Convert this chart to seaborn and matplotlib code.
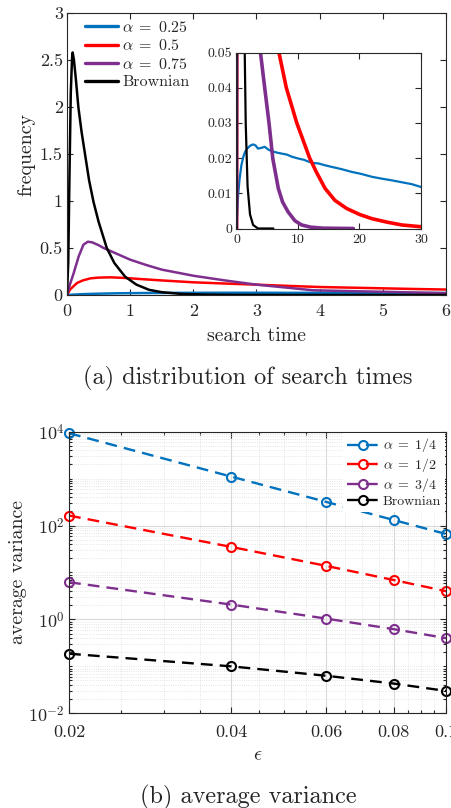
import numpy as np
import pandas as pd
import matplotlib
matplotlib.use('Agg')
import matplotlib.pyplot as plt
import matplotlib.ticker as mticker
import seaborn as sns

# --- (a) distribution of search times ---
t_a25 = [0, 0.1, 0.27, 0.5, 0.8, 1.1, 1.4, 1.8, 2.2, 2.7, 3.1, 3.5, 4.0, 4.6, 5.2, 5.7, 6.5, 7.3, 8.2,
         9.0, 10.0, 11.0, 11.7, 12.5, 13.3, 14.3, 15.5, 17.0, 18.7, 20.3, 22.0, 23.5, 25.2, 27.0, 28.5, 30.0]
f_a25 = [0, 0.004, 0.0095, 0.014, 0.018, 0.0203, 0.0218, 0.0228, 0.0235, 0.0239, 0.0236, 0.0227, 0.0229,
         0.0232, 0.0224, 0.0220, 0.0216, 0.0213, 0.0210, 0.0204, 0.0199, 0.0195, 0.0190, 0.0186, 0.0185,
         0.0180, 0.0175, 0.0169, 0.0161, 0.0155, 0.0147, 0.0142, 0.0137, 0.0131, 0.0126, 0.0118]

t_a50 = [0, 0.05, 0.16, 0.25, 0.37, 0.5, 0.69, 0.9, 1.16, 1.5, 2.0, 2.5, 3.0, 3.5, 4.0, 4.5, 5.0, 5.5,
         6.0, 6.9, 8.1, 9.8, 11.9, 13.0, 14.4, 16.0, 17.9, 20.0, 22.0, 24.5, 26.9, 30.0]
f_a50 = [0, 0.06, 0.128, 0.155, 0.177, 0.185, 0.188, 0.182, 0.170, 0.155, 0.135, 0.122, 0.110, 0.097,
         0.085, 0.078, 0.071, 0.064, 0.058, 0.050, 0.040, 0.030, 0.020, 0.016, 0.0114, 0.008, 0.0057,
         0.0040, 0.0028, 0.0018, 0.0010, 0.0005]

t_a75 = [0, 0.05, 0.1, 0.185, 0.26, 0.33, 0.4, 0.5, 0.58, 0.75, 1.0, 1.25, 1.5, 2.0, 2.5, 3.0, 3.5, 3.9,
         4.6, 5.3, 5.9, 6.8, 7.5, 8.4, 9.5, 10.6, 12.0, 14.0, 19.0]
f_a75 = [0, 0.12, 0.22, 0.41, 0.535, 0.567, 0.56, 0.53, 0.50, 0.45, 0.376, 0.32, 0.27, 0.205, 0.155,
         0.110, 0.077, 0.050, 0.0398, 0.0298, 0.0199, 0.0114, 0.0075, 0.0047, 0.0022, 0.0010, 0.0004,
         0.0001, 0.0]

t_brown = [0, 0.02, 0.04, 0.06, 0.08, 0.09, 0.11, 0.14, 0.18, 0.23, 0.285, 0.35, 0.42, 0.5, 0.63, 0.75,
           0.92, 1.1, 1.3, 1.5, 1.8, 2.2, 2.7, 3.5, 6.0]
f_brown = [0, 0.35, 1.3, 2.15, 2.52, 2.58, 2.5, 2.3, 2.0, 1.74, 1.5, 1.22, 0.99, 0.78, 0.5, 0.34,
           0.195, 0.11, 0.055, 0.03, 0.012, 0.004, 0.001, 0.0, 0.0]

freq_labels = ['$\\alpha\\;=\\;0.25$', '$\\alpha\\;=\\;0.5$', '$\\alpha\\;=\\;0.75$', 'Brownian']
main_yticks = [0, 0.5, 1, 1.5, 2, 2.5, 3]
main_yticklabels = ['0', '0.5', '1', '1.5', '2', '2.5', '3']
inset_yticks = [0, 0.01, 0.02, 0.03, 0.04, 0.05]
inset_yticklabels = ['0', '0.01', '0.02', '0.03', '0.04', '0.05']

# --- (b) average variance vs epsilon ---
eps = [0.02, 0.04, 0.06, 0.08, 0.1]
var_a14 = [9250, 1100, 318, 131, 66]
var_a12 = [163, 35, 13.8, 6.9, 4.0]
var_a34 = [6.2, 2.07, 1.04, 0.62, 0.40]
var_brown = [0.186, 0.10, 0.063, 0.043, 0.030]
var_labels = ['$\\alpha\\;=\\;1/4$', '$\\alpha\\;=\\;1/2$', '$\\alpha\\;=\\;3/4$', 'Brownian']
eps_ticklabels = ['0.02', '0.04', '0.06', '0.08', '0.1']
var_yticks = [1e-2, 1e0, 1e2, 1e4]
var_yticklabels = ['$10^{-2}$', '$10^{0}$', '$10^{2}$', '$10^{4}$']

colors = ['#0072BD', '#FF0000', '#7E2F8E', '#000000']
axcol = '#262626'

sns.set_style('ticks')
plt.rcParams['font.family'] = ['serif']
plt.rcParams['font.serif'] = ['cmr10', 'DejaVu Serif']
plt.rcParams['mathtext.fontset'] = 'cm'
plt.rcParams['axes.unicode_minus'] = False
plt.rcParams['axes.formatter.use_mathtext'] = True

fig = plt.figure(figsize=(4.52, 8.08), dpi=100)
ax1 = fig.add_axes([0.1482, 0.6349, 0.8385, 0.349])
ax_in = fig.add_axes([0.5232, 0.7172, 0.4082, 0.2178])
ax2 = fig.add_axes([0.1527, 0.1172, 0.834, 0.3486])

series = [(t_a25, f_a25), (t_a50, f_a50), (t_a75, f_a75), (t_brown, f_brown)]

# main panel
for (t, f), lab, c in zip(series, freq_labels, colors):
    df = pd.DataFrame({'t': t, 'f': f})
    sns.lineplot(data=df, x='t', y='f', ax=ax1, color=c, lw=1.8, sort=False, label=lab)
ax1.set_xlim(0, 6)
ax1.set_ylim(0, 3)
ax1.set_yticks(main_yticks)
ax1.set_yticklabels(main_yticklabels)
ax1.set_xticks(range(7))
ax1.set_xticklabels([str(i) for i in range(7)])
ax1.set_xlabel('search time', fontsize=14.3, labelpad=6)
ax1.set_ylabel('frequency', fontsize=14.3, labelpad=3)
leg = ax1.legend(loc='upper left', bbox_to_anchor=(0.039, 0.988), frameon=False, fontsize=11.5,
                 handlelength=2.05, handletextpad=0.3, labelspacing=0.22, borderpad=0.2,
                 borderaxespad=0.0)
for h in leg.get_lines():
    h.set_linewidth(2.4)

# inset
inset_lw = [1.6, 2.6, 2.6, 1.6]
for (t, f), c, w in zip(series, colors, inset_lw):
    df = pd.DataFrame({'t': t, 'f': f})
    sns.lineplot(data=df, x='t', y='f', ax=ax_in, color=c, lw=w, sort=False, legend=False)
ax_in.set_xlim(0, 30)
ax_in.set_ylim(0, 0.05)
ax_in.set_xticks([0, 10, 20, 30])
ax_in.set_xticklabels(['0', '10', '20', '30'])
ax_in.set_yticks(inset_yticks)
ax_in.set_yticklabels(inset_yticklabels)
ax_in.set_xlabel('')
ax_in.set_ylabel('')
ax_in.set_facecolor('white')

for ax, fs, pd_ in [(ax1, 13, 6), (ax_in, 10, 4)]:
    ax.tick_params(direction='in', top=True, right=True, length=4, width=0.8,
                   labelsize=fs, colors=axcol)
    ax.tick_params(axis='x', pad=pd_)
    ax.tick_params(axis='y', pad=3)
    for s in ax.spines.values():
        s.set_color(axcol)
        s.set_linewidth(0.8)

# bottom panel
var_series = [var_a14, var_a12, var_a34, var_brown]
for v, lab, c in zip(var_series, var_labels, colors):
    df = pd.DataFrame({'eps': eps, 'var': v})
    sns.lineplot(data=df, x='eps', y='var', ax=ax2, color=c, lw=1.7, label=lab,
                 marker='o', markersize=6.5, markerfacecolor='none', markeredgecolor=c,
                 markeredgewidth=1.5, linestyle=(0, (5.0, 3.0)), clip_on=False)
ax2.set_xscale('log')
ax2.set_yscale('log')
ax2.set_xlim(0.02, 0.1)
ax2.set_ylim(1e-2, 1e4)
ax2.xaxis.set_major_locator(mticker.FixedLocator(eps))
ax2.xaxis.set_major_formatter(mticker.FixedFormatter(eps_ticklabels))
ax2.xaxis.set_minor_locator(mticker.FixedLocator(
    [x for x in np.arange(0.025, 0.1, 0.005) if min(abs(x - e) for e in eps) > 1e-4]))
ax2.xaxis.set_minor_formatter(mticker.NullFormatter())
ax2.yaxis.set_major_locator(mticker.FixedLocator(var_yticks))
ax2.yaxis.set_major_formatter(mticker.FixedFormatter(var_yticklabels))
ax2.yaxis.set_minor_locator(mticker.FixedLocator(
    [m * 10.0 ** k for k in range(-2, 4) for m in range(1, 10) if not (m == 1 and k % 2 == 0)]))
ax2.yaxis.set_minor_formatter(mticker.NullFormatter())
ax2.grid(True, which='major', color='#d9d9d9', lw=0.8)
ax2.grid(True, which='minor', color='#dddddd', lw=0.6, ls=':')
ax2.tick_params(which='both', direction='in', top=True, right=True, colors=axcol,
                labelsize=13, width=0.8)
ax2.tick_params(which='major', length=4)
ax2.tick_params(axis='x', which='major', pad=8)
ax2.tick_params(axis='y', which='major', pad=3)
ax2.tick_params(which='minor', length=2)
for s in ax2.spines.values():
    s.set_color(axcol)
    s.set_linewidth(0.8)
ax2.set_xlabel('$\\epsilon$', fontsize=14.3, labelpad=5)
ax2.set_ylabel('average variance', fontsize=14.3, labelpad=1)
leg2 = ax2.legend(loc='upper right', fontsize=10, frameon=True, facecolor='white',
                  edgecolor='none', framealpha=1, fancybox=False, handlelength=2.4,
                  handletextpad=0.2, labelspacing=0.12, borderpad=0.25, borderaxespad=0.1)

fig.text(0.549, 1 - 378 / 808, '(a) distribution of search times', ha='center', va='center',
         fontsize=17.5)
fig.text(0.549, 1 - 797 / 808, '(b) average variance', ha='center', va='center', fontsize=17.5)

fig.savefig('out.png', dpi=100)
